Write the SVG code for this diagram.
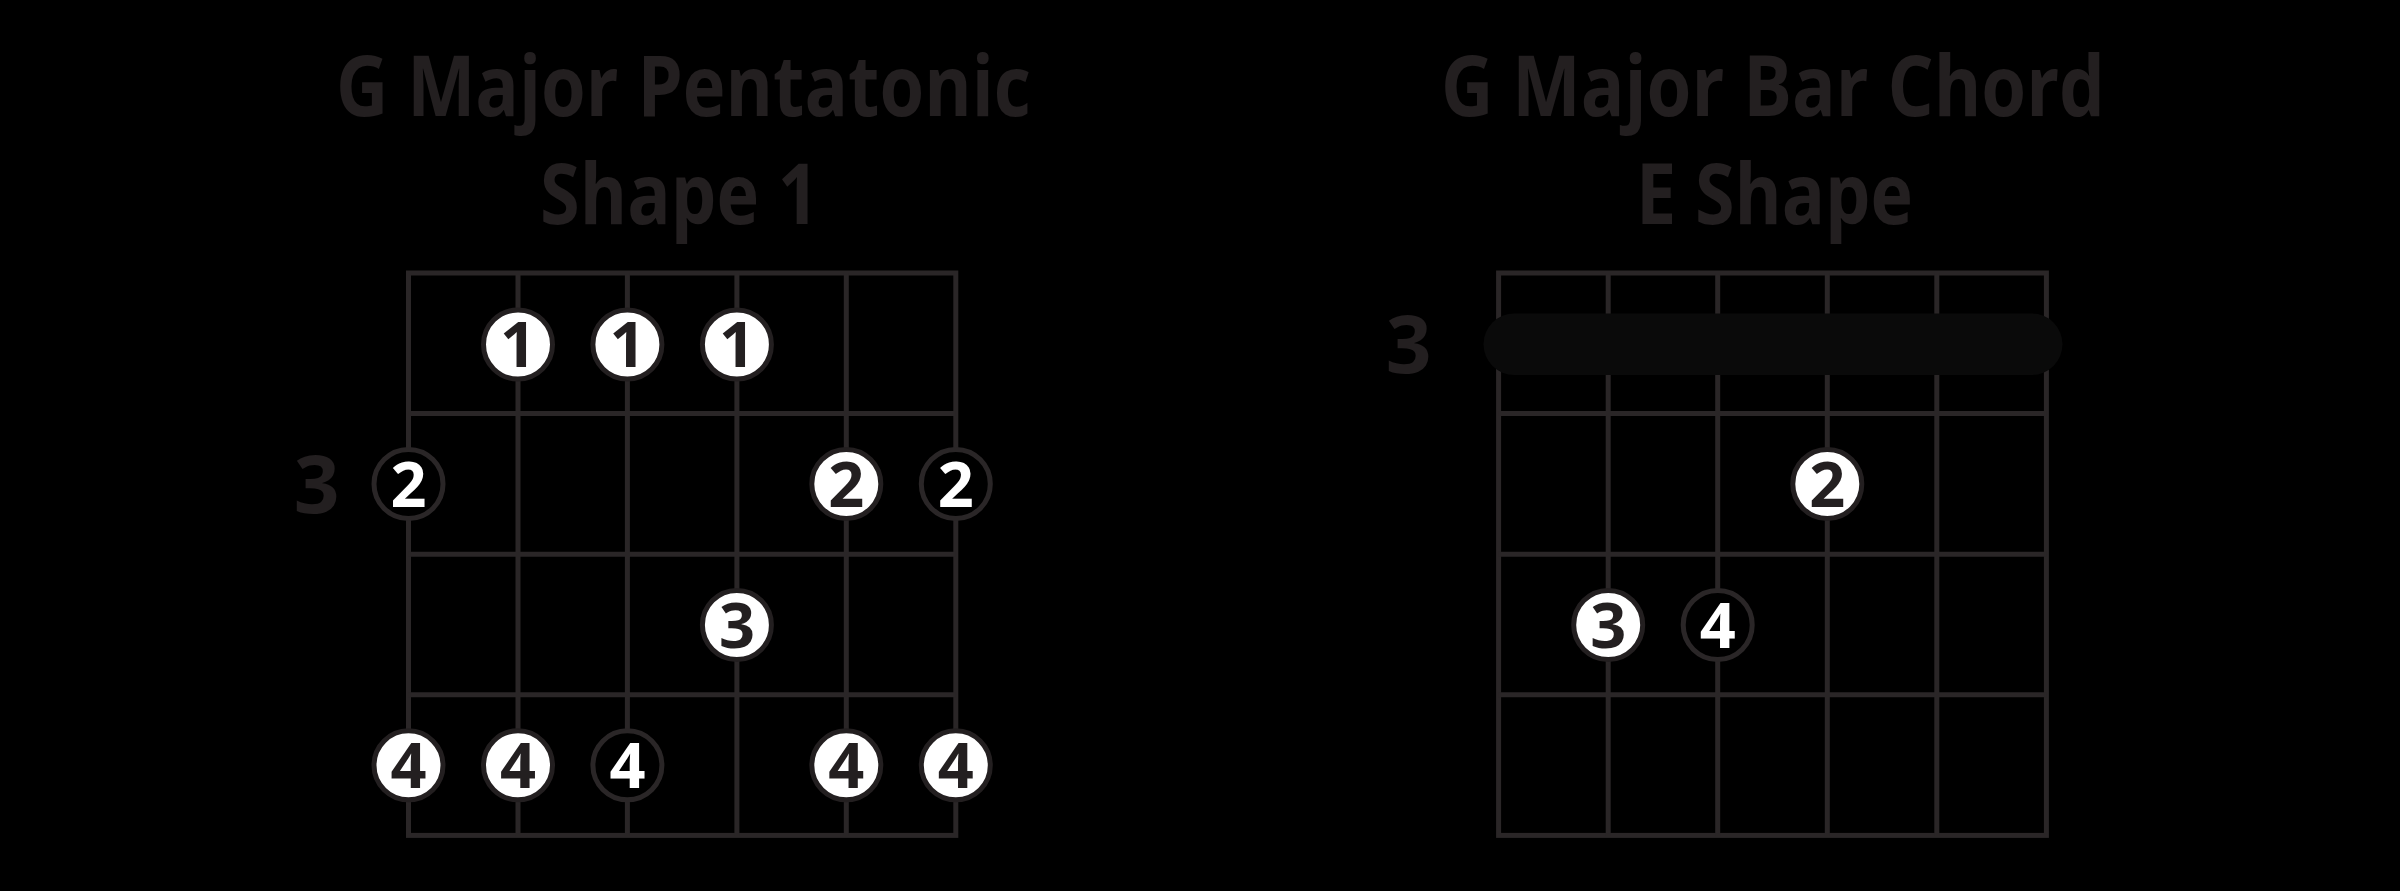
<svg xmlns="http://www.w3.org/2000/svg" width="2400" height="891" viewBox="0 0 2400 891">
<style>
.bg{fill:#000}
.title{font-family:"Open Sans","Liberation Sans",sans-serif;font-weight:700;font-size:84px;fill:#231f20}
.fret{font-family:"Open Sans","Liberation Sans",sans-serif;font-weight:700;font-size:80px;fill:#231f20;text-anchor:middle}
.grid{fill:none;stroke:#2a2627;stroke-width:5}
.dw{fill:#fff;stroke:#231f20;stroke-width:5}
.db{fill:#000;stroke:#2a2627;stroke-width:5}
.tw{font-family:"Open Sans","Liberation Sans",sans-serif;font-weight:700;font-size:63px;fill:#231f20;text-anchor:middle}
.tb{font-family:"Open Sans","Liberation Sans",sans-serif;font-weight:700;font-size:63px;fill:#fff;text-anchor:middle}
.bar{fill:#0a0a0a}
</style>
<rect class="bg" x="0" y="0" width="2400" height="891"/>

<g id="title-left">
<text class="title" x="336" y="116" textLength="695" lengthAdjust="spacingAndGlyphs">G Major Pentatonic</text>
<text class="title" x="540" y="224" textLength="279" lengthAdjust="spacingAndGlyphs">Shape 1</text>
</g>
<g id="title-right">
<text class="title" x="1441" y="116" textLength="664" lengthAdjust="spacingAndGlyphs">G Major Bar Chord</text>
<text class="title" x="1636" y="224" textLength="277" lengthAdjust="spacingAndGlyphs">E Shape</text>
</g>

<g id="grid-left" class="grid">
<rect x="408.5" y="273" width="547.3" height="562.4"/>
<path d="M518 273V835.4M627.4 273V835.4M736.9 273V835.4M846.3 273V835.4M408.5 413.6H955.8M408.5 554.2H955.8M408.5 694.8H955.8"/>
</g>
<g id="grid-right" class="grid">
<rect x="1498.6" y="273" width="547.8" height="562.4"/>
<path d="M1608.2 273V835.4M1717.7 273V835.4M1827.3 273V835.4M1936.8 273V835.4M1498.6 413.6H2046.4M1498.6 554.2H2046.4M1498.6 694.8H2046.4"/>
</g>

<g id="fret-left"><text class="fret" x="316.5" y="513">3</text></g>
<g id="fret-right"><text class="fret" x="1408.5" y="372.5">3</text></g>

<g id="bar"><rect class="bar" x="1483.5" y="313.5" width="579" height="61.5" rx="30.75"/></g>

<g id="dots-left">
<g id="l-r1-s2"><circle class="dw" cx="518" cy="344.5" r="34.5"/><text class="tw" x="518" y="367">1</text></g>
<g id="l-r1-s3"><circle class="dw" cx="627.4" cy="344.5" r="34.5"/><text class="tw" x="627.4" y="367">1</text></g>
<g id="l-r1-s4"><circle class="dw" cx="736.9" cy="344.5" r="34.5"/><text class="tw" x="736.9" y="367">1</text></g>
<g id="l-r2-s1"><circle class="db" cx="408.5" cy="484" r="34.5"/><text class="tb" x="408.5" y="506.5">2</text></g>
<g id="l-r2-s5"><circle class="dw" cx="846.3" cy="484" r="34.5"/><text class="tw" x="846.3" y="506.5">2</text></g>
<g id="l-r2-s6"><circle class="db" cx="955.8" cy="484" r="34.5"/><text class="tb" x="955.8" y="506.5">2</text></g>
<g id="l-r3-s4"><circle class="dw" cx="736.9" cy="625" r="34.5"/><text class="tw" x="736.9" y="647.5">3</text></g>
<g id="l-r4-s1"><circle class="dw" cx="408.5" cy="765.3" r="34.5"/><text class="tw" x="408.5" y="787.8">4</text></g>
<g id="l-r4-s2"><circle class="dw" cx="518" cy="765.3" r="34.5"/><text class="tw" x="518" y="787.8">4</text></g>
<g id="l-r4-s3"><circle class="db" cx="627.4" cy="765.3" r="34.5"/><text class="tb" x="627.4" y="787.8">4</text></g>
<g id="l-r4-s5"><circle class="dw" cx="846.3" cy="765.3" r="34.5"/><text class="tw" x="846.3" y="787.8">4</text></g>
<g id="l-r4-s6"><circle class="dw" cx="955.8" cy="765.3" r="34.5"/><text class="tw" x="955.8" y="787.8">4</text></g>
</g>

<g id="dots-right">
<g id="r-r2-s4"><circle class="dw" cx="1827.3" cy="484" r="34.5"/><text class="tw" x="1827.3" y="506.5">2</text></g>
<g id="r-r3-s2"><circle class="dw" cx="1608.2" cy="625" r="34.5"/><text class="tw" x="1608.2" y="647.5">3</text></g>
<g id="r-r3-s3"><circle class="db" cx="1717.7" cy="625" r="34.5"/><text class="tb" x="1717.7" y="647.5">4</text></g>
</g>
</svg>
